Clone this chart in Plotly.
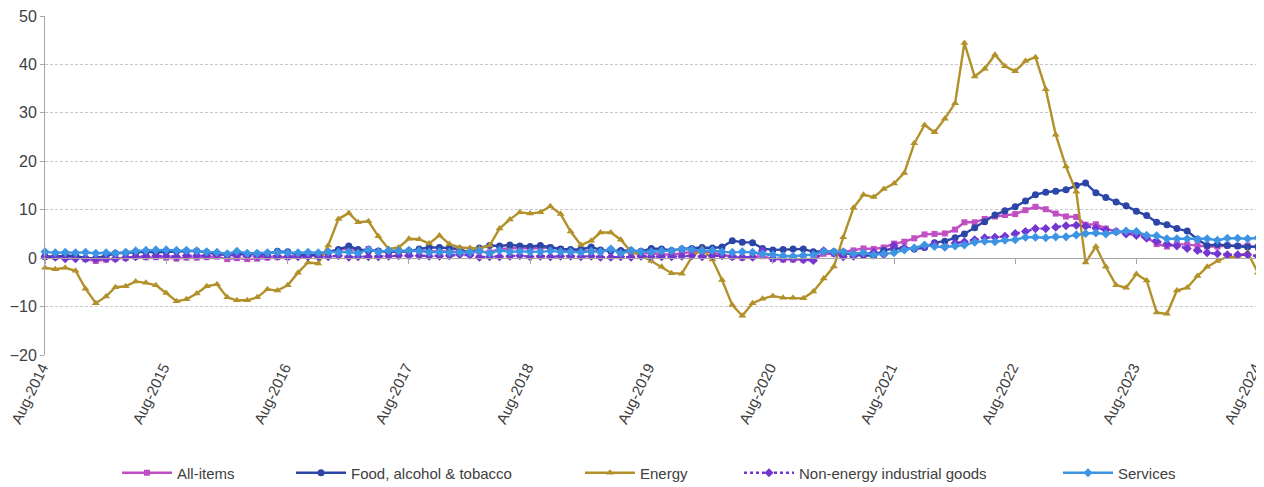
import pandas as pd
import plotly.graph_objects as go

# Monthly annual rates of change (%), Aug-2014 .. Aug-2024
months = pd.date_range("2014-08-01", "2024-08-01", freq="MS")

all_items = [
    0.4, 0.3, 0.4, 0.3, -0.2,
    -0.6, -0.3, -0.1, 0.0, 0.3, 0.2, 0.2, 0.1, -0.1, 0.1, 0.1, 0.2,
    0.3, -0.2, 0.0, -0.2, -0.1, 0.1, 0.2, 0.2, 0.4, 0.5, 0.6, 1.1,
    1.7, 2.0, 1.5, 1.9, 1.4, 1.3, 1.3, 1.5, 1.5, 1.4, 1.5, 1.4,
    1.3, 1.1, 1.4, 1.2, 1.9, 2.0, 2.1, 2.0, 2.1, 2.2, 1.9, 1.5,
    1.4, 1.5, 1.4, 1.7, 1.2, 1.3, 1.0, 1.0, 0.8, 0.7, 1.0, 1.3,
    1.4, 1.2, 0.7, 0.3, 0.1, 0.3, 0.4, -0.2, -0.3, -0.3, -0.3, -0.3,
    0.9, 0.9, 1.3, 1.6, 2.0, 1.9, 2.2, 3.0, 3.4, 4.1, 4.9, 5.0,
    5.1, 5.9, 7.4, 7.4, 8.1, 8.6, 8.9, 9.1, 9.9, 10.6, 10.1, 9.2,
    8.6, 8.5, 6.9, 7.0, 6.1, 5.5, 5.3, 5.2, 4.3, 2.9, 2.4, 2.9,
    2.8, 2.6, 2.4, 2.4, 2.6, 2.5, 2.6, 2.2,
]

food = [
    0.3, 0.3, 0.5, 0.5, 0.0,
    0.0, 0.5, 1.0, 1.1, 1.2, 1.3, 1.2, 1.3, 1.4, 1.5, 1.5, 1.2,
    0.8, 0.7, 0.9, 0.8, 0.9, 0.9, 1.4, 1.3, 0.7, 0.6, 0.7, 1.2,
    1.8, 2.5, 1.8, 1.5, 1.5, 1.3, 1.4, 1.4, 1.9, 2.2, 2.2, 2.1,
    1.9, 1.0, 2.1, 2.6, 2.5, 2.7, 2.5, 2.4, 2.6, 2.2, 1.9, 1.8,
    1.8, 2.3, 1.7, 1.5, 1.6, 1.6, 1.4, 2.0, 1.9, 1.6, 1.9, 2.0,
    2.2, 2.1, 2.3, 3.6, 3.3, 3.2, 2.0, 1.7, 1.8, 1.9, 1.9, 1.3,
    1.5, 1.3, 1.1, 0.7, 0.6, 0.5, 1.6, 2.0, 2.0, 1.9, 2.2, 3.2,
    3.5, 4.2, 5.0, 6.3, 7.5, 8.9, 9.8, 10.6, 11.8, 13.1, 13.6, 13.8,
    14.1, 15.0, 15.5, 13.5, 12.5, 11.6, 10.8, 9.7, 8.8, 7.4, 6.9, 6.1,
    5.6, 3.9, 2.6, 2.8, 2.6, 2.5, 2.3, 2.4,
]

energy = [
    -2.0, -2.3, -2.0, -2.6, -6.3,
    -9.3, -7.9, -6.0, -5.8, -4.8, -5.1, -5.6, -7.2, -8.9, -8.5, -7.3, -5.8,
    -5.4, -8.1, -8.7, -8.7, -8.1, -6.4, -6.7, -5.6, -3.0, -0.9, -1.1, 2.6,
    8.1, 9.3, 7.4, 7.6, 4.5, 1.9, 2.2, 4.0, 3.9, 3.0, 4.7, 2.9,
    2.2, 2.1, 2.0, 2.6, 6.1, 8.0, 9.5, 9.2, 9.5, 10.7, 9.1, 5.5,
    2.7, 3.6, 5.3, 5.3, 3.8, 1.3, 0.5, -0.6, -1.8, -3.1, -3.2, 0.2,
    1.9, -0.3, -4.5, -9.7, -11.9, -9.3, -8.4, -7.8, -8.2, -8.2, -8.3, -6.9,
    -4.2, -1.7, 4.3, 10.4, 13.1, 12.6, 14.3, 15.4, 17.6, 23.7, 27.5, 26.0,
    28.8, 32.0, 44.4, 37.5, 39.1, 42.0, 39.6, 38.6, 40.7, 41.5, 34.9, 25.5,
    18.9, 13.7, -0.9, 2.4, -1.8, -5.6, -6.1, -3.3, -4.6, -11.2, -11.5, -6.7,
    -6.1, -3.7, -1.8, -0.6, 0.3, 0.2, 1.2, -3.0,
]

neig = [
    0.3, 0.2, -0.1, -0.1, -0.1,
    -0.1, -0.1, -0.1, 0.1, 0.3, 0.4, 0.5, 0.4, 0.3, 0.5, 0.5, 0.5,
    0.7, 0.7, 0.5, 0.5, 0.4, 0.4, 0.4, 0.3, 0.3, 0.3, 0.3, 0.3,
    0.5, 0.2, 0.3, 0.3, 0.3, 0.4, 0.5, 0.5, 0.5, 0.4, 0.4, 0.5,
    0.7, 0.6, 0.2, 0.3, 0.3, 0.4, 0.5, 0.3, 0.4, 0.3, 0.4, 0.4,
    0.3, 0.4, 0.2, 0.2, 0.3, 0.2, 0.4, 0.3, 0.3, 0.3, 0.4, 0.5,
    0.3, 0.5, 0.5, 0.3, 0.2, 0.2, 1.6, -0.1, -0.1, -0.1, -0.3, -0.5,
    1.5, 1.0, 0.3, 0.4, 0.7, 1.2, 0.7, 2.6, 2.1, 2.0, 2.4, 2.9,
    2.3, 3.1, 3.4, 3.8, 4.2, 4.3, 4.5, 5.1, 5.5, 6.1, 6.1, 6.4,
    6.7, 6.8, 6.6, 6.2, 5.8, 5.5, 5.0, 4.7, 4.1, 3.5, 2.9, 2.5,
    2.0, 1.6, 1.1, 0.9, 0.7, 0.7, 0.7, 0.4,
]

services = [
    1.3, 1.1, 1.2, 1.1, 1.2,
    1.0, 1.1, 1.0, 1.2, 1.5, 1.6, 1.7, 1.7, 1.6, 1.6, 1.5, 1.3,
    1.2, 0.9, 1.4, 1.0, 1.0, 1.1, 1.2, 1.1, 1.1, 1.2, 1.1, 1.3,
    1.2, 1.3, 1.0, 1.8, 1.3, 1.6, 1.5, 1.6, 1.5, 1.2, 1.3, 1.2,
    1.2, 1.2, 1.5, 1.0, 1.6, 1.3, 1.4, 1.3, 1.3, 1.5, 1.3, 1.3,
    1.2, 1.4, 1.3, 1.9, 1.0, 1.6, 1.3, 1.3, 1.5, 1.5, 1.9, 1.8,
    1.5, 1.6, 1.3, 1.2, 1.3, 1.2, 0.9, 0.7, 0.5, 0.4, 0.6, 0.7,
    1.4, 1.3, 1.3, 0.9, 1.1, 0.7, 0.9, 1.1, 1.7, 2.1, 2.7, 2.4,
    2.3, 2.5, 2.7, 3.3, 3.5, 3.4, 3.7, 3.8, 4.3, 4.3, 4.2, 4.4,
    4.4, 4.8, 5.1, 5.2, 5.0, 5.4, 5.6, 5.5, 4.7, 4.6, 4.0, 4.0,
    4.0, 3.9, 4.0, 3.7, 4.1, 4.1, 4.0, 4.2,
]

series_names = ["All-items", "Food, alcohol & tobacco", "Energy",
                "Non-energy industrial goods", "Services"]
tick_dates = pd.date_range("2014-08-01", "2024-08-01", freq="12MS")
tick_labels = ["Aug-2014", "Aug-2015", "Aug-2016", "Aug-2017", "Aug-2018",
               "Aug-2019", "Aug-2020", "Aug-2021", "Aug-2022", "Aug-2023",
               "Aug-2024"]

styles = [
    dict(color="#C04FC4", symbol="square", size=6, dash="solid"),
    dict(color="#2C46A8", symbol="circle", size=7, dash="solid"),
    dict(color="#B3912A", symbol="triangle-up", size=7, dash="solid"),
    dict(color="#7436D0", symbol="diamond", size=7, dash="dot"),
    dict(color="#3D94E3", symbol="diamond", size=7, dash="solid"),
]
data = [all_items, food, energy, neig, services]
legend_ids = ["legend", "legend2", "legend3", "legend4", "legend5"]
legend_px = [117, 291, 580, 739, 1058]

# page body has an 8px margin: figure is placed at (8, 8)
OFF = 8
W, H = 1264 - OFF, 487 - OFF
L, R, T, B = 45 - OFF, 6, 16 - OFF, 132
pw = W - L - R
ph = H - T - B

fig = go.Figure()
for name, vals, st, lid in zip(series_names, data, styles, legend_ids):
    fig.add_trace(go.Scatter(
        x=months, y=vals, name=name, mode="lines+markers",
        line=dict(color=st["color"], width=2.4, dash=st["dash"]),
        marker=dict(symbol=st["symbol"], size=st["size"], color=st["color"]),
        legend=lid, cliponaxis=False,
    ))

# helper trace so that the zero-crossing axis is drawn
fig.add_trace(go.Scatter(x=months, y=energy, mode="none", xaxis="x2",
                         showlegend=False, hoverinfo="skip"))

font = dict(family="Liberation Sans, Arial, sans-serif", color="#404040")
legend_common = dict(orientation="h", yanchor="middle", xanchor="left",
                     y=(ph - (473 - 16)) / ph, font=dict(size=15, **font),
                     itemwidth=50, bgcolor="rgba(0,0,0,0)")
layout_legends = {}
for lid, px in zip(legend_ids, legend_px):
    layout_legends[lid] = dict(x=(px - 45) / pw, **legend_common)

rng = [months[0], months[-1] + pd.Timedelta(hours=6)]
fig.update_layout(
    width=W, height=H,
    margin=dict(l=L, r=R, t=T, b=B, autoexpand=False),
    plot_bgcolor="white", paper_bgcolor="white",
    font=font,
    xaxis=dict(range=rng, tickvals=tick_dates, ticktext=tick_labels,
               tickangle=-64, showgrid=False, zeroline=False, showline=False,
               ticks="", automargin=False, ticklabeloverflow="allow",
               ticklabelshift=-3, tickfont=dict(size=15, **font)),
    xaxis2=dict(range=rng, overlaying="x", anchor="free", position=20 / 70,
                tickvals=tick_dates, showticklabels=False, ticks="outside",
                ticklen=5, tickcolor="#A6A6A6", showline=True,
                linecolor="#A6A6A6", linewidth=1, showgrid=False,
                zeroline=False, automargin=False),
    yaxis=dict(range=[-20, 50], dtick=10, showgrid=True, gridcolor="#C8C8C8",
               griddash="3px,2px", gridwidth=1, zeroline=False, showline=True,
               linecolor="#A6A6A6", ticks="outside", ticklen=4,
               tickcolor="#A6A6A6", automargin=False,
               ticklabeloverflow="allow", tickfont=dict(size=16, **font)),
    **layout_legends,
)

fig.write_html("out.html")
